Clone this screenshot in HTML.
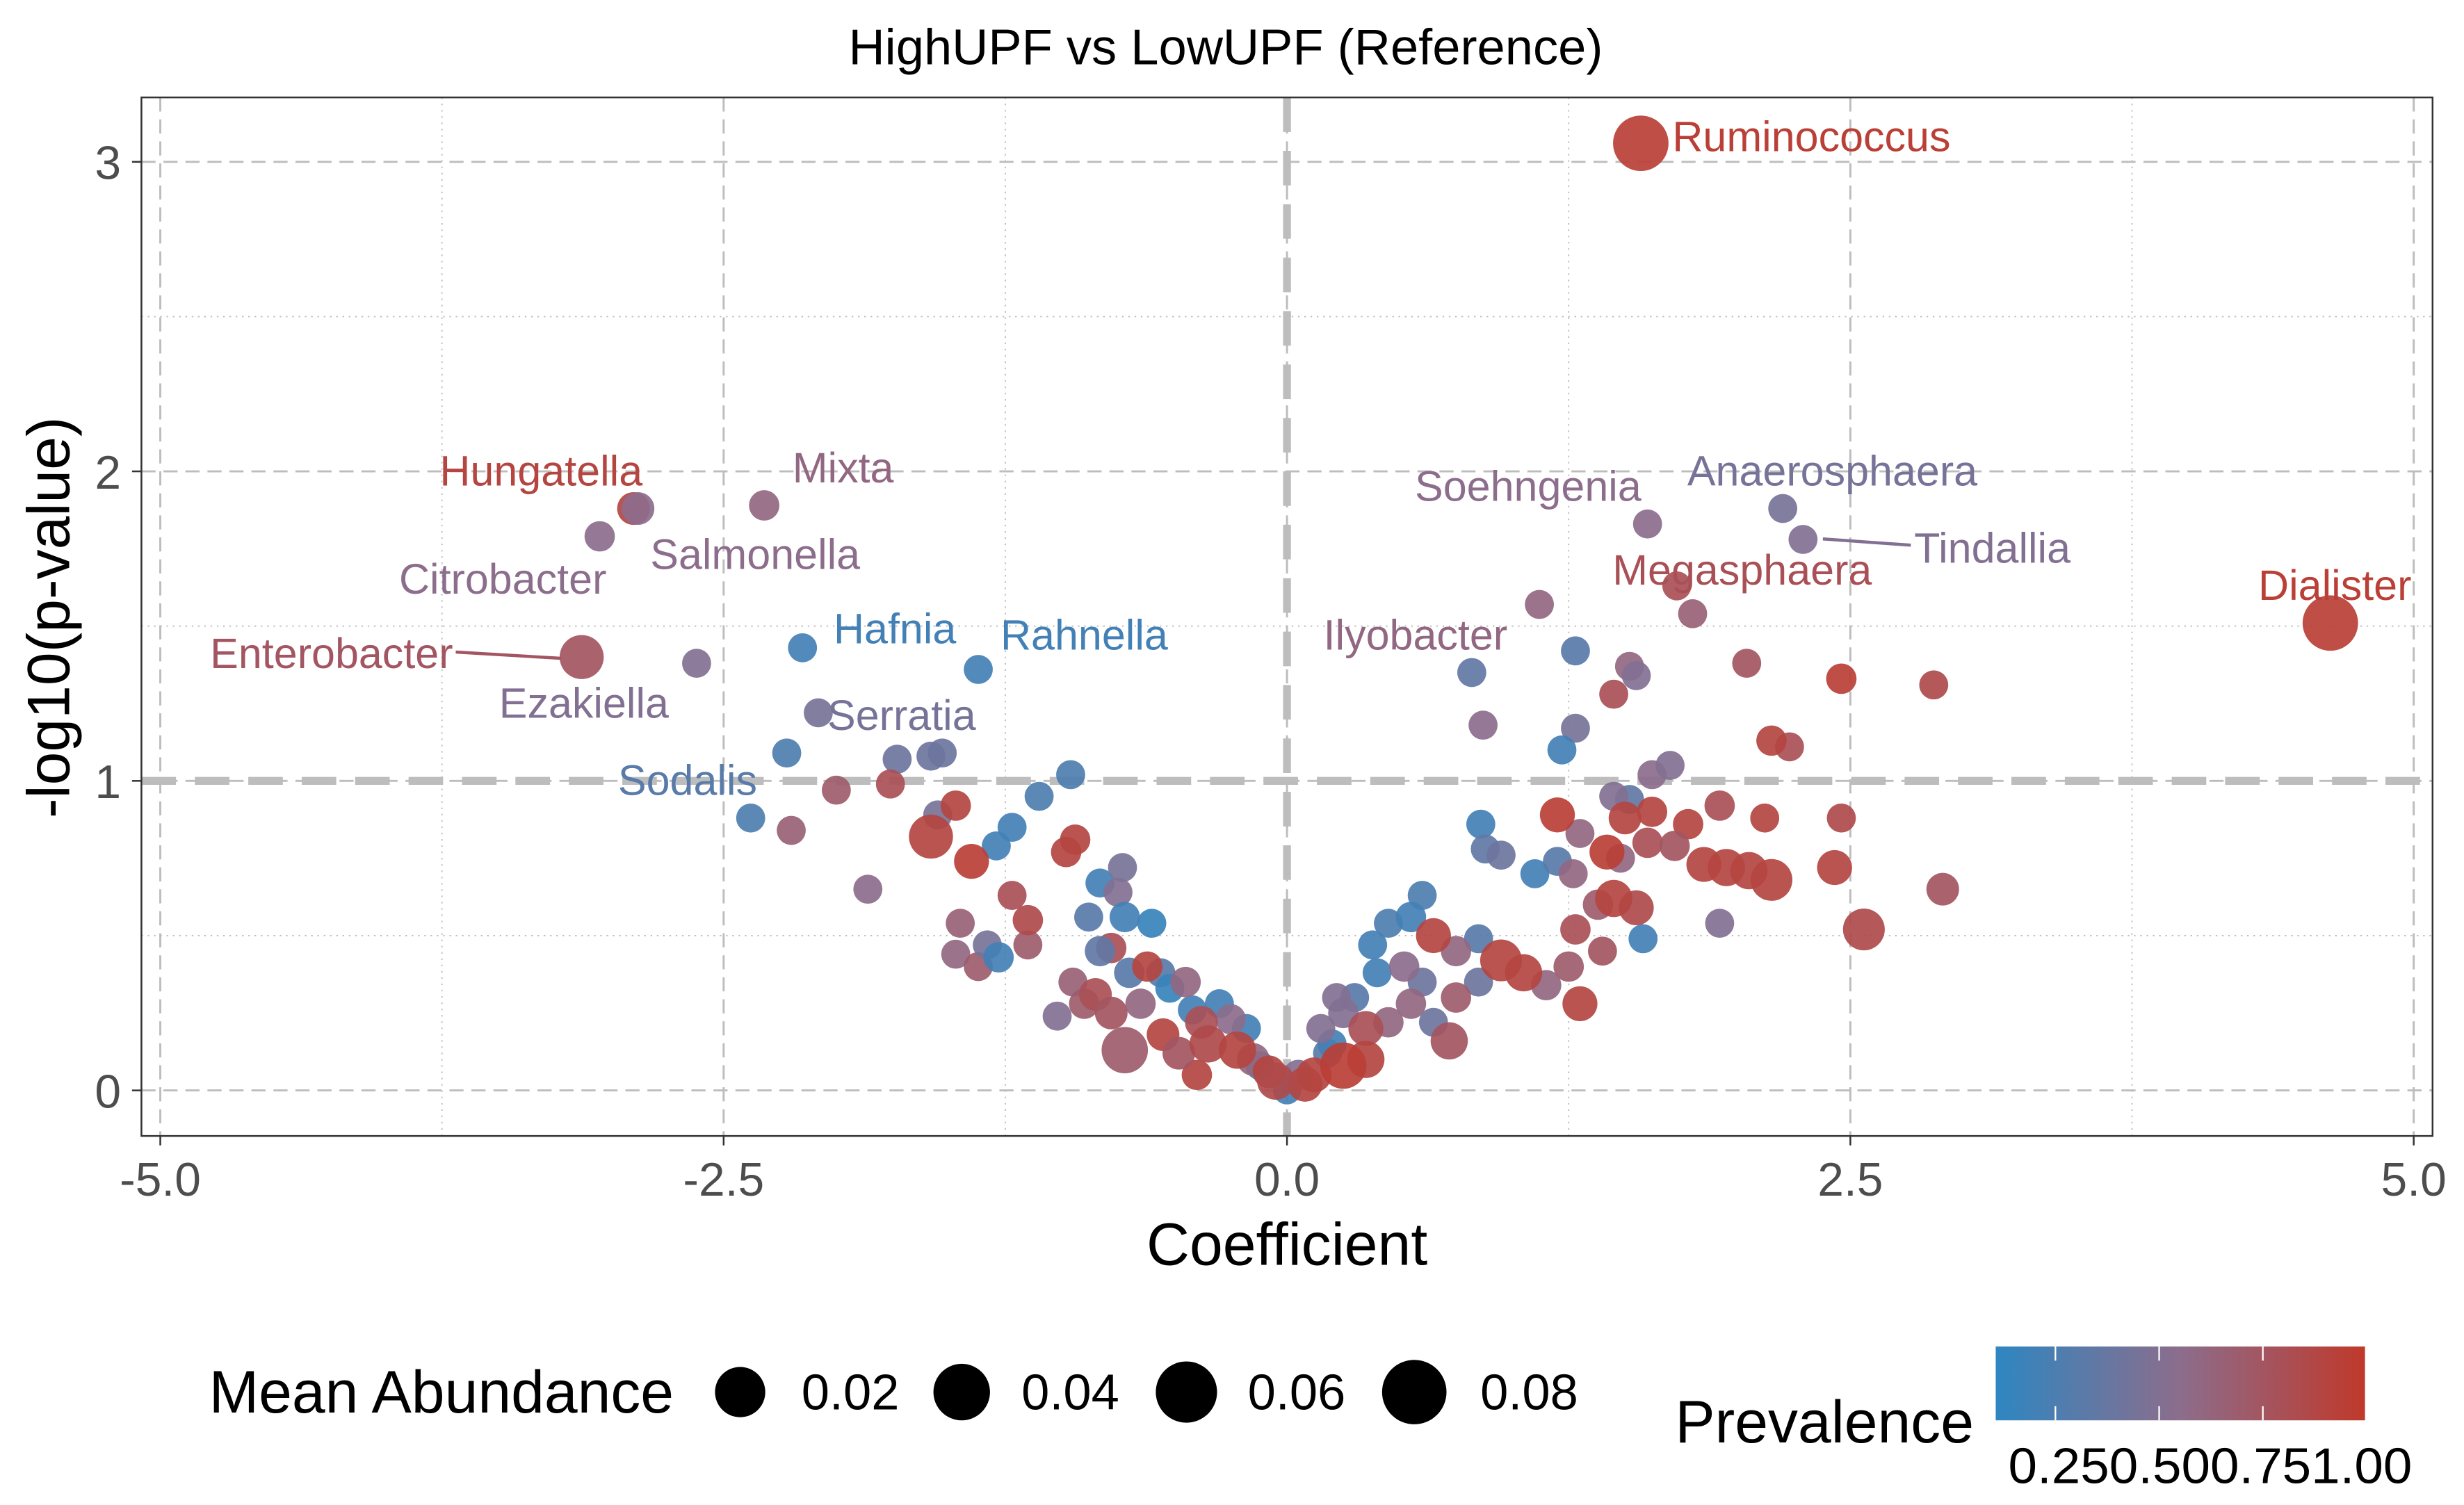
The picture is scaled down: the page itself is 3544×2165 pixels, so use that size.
<!DOCTYPE html>
<html><head><meta charset="utf-8"><style>
html,body{margin:0;padding:0;background:#fff;}
svg{display:block;font-family:"Liberation Sans",Arial,sans-serif;}
</style></head><body>
<svg id="chart" width="3544" height="2165" xmlns="http://www.w3.org/2000/svg">
<rect x="0" y="0" width="3544" height="2165" fill="#fff"/>
<g id="root" transform="scale(2.26020)">
<text x="780" y="41" style="font-size:32px" text-anchor="middle" fill="#000">HighUPF vs LowUPF (Reference)</text>
<g id="grid"></g>
<g id="points"></g>
<g id="labels"></g>
<rect x="90" y="62" width="1458" height="661" fill="none" stroke="#333" stroke-width="1.1"/>
<g id="axes"></g>
<text x="819" y="805" style="font-size:38px" text-anchor="middle" fill="#000">Coefficient</text>
<text transform="translate(44,393) rotate(-90)" style="font-size:38px" text-anchor="middle" fill="#000">-log10(p-value)</text>
<g>
<text x="133" y="899" style="font-size:38px" fill="#000">Mean Abundance</text>
<circle cx="471" cy="886" r="16"/>
<text x="510" y="897" style="font-size:32px" fill="#000">0.02</text>
<circle cx="612" cy="886" r="18"/>
<text x="650" y="897" style="font-size:32px" fill="#000">0.04</text>
<circle cx="755" cy="886" r="19.5"/>
<text x="794" y="897" style="font-size:32px" fill="#000">0.06</text>
<circle cx="900" cy="886" r="20.5"/>
<text x="942" y="897" style="font-size:32px" fill="#000">0.08</text>
</g>
<g>
<defs><linearGradient id="cg" x1="0" x2="1" y1="0" y2="0">
<stop offset="0" stop-color="#2E86C1"/><stop offset="0.5" stop-color="#8C6D8C"/><stop offset="1" stop-color="#C0392B"/></linearGradient></defs>
<text x="1066" y="918" style="font-size:38px" fill="#000">Prevalence</text>
<rect x="1270" y="857" width="235" height="47" fill="url(#cg)"/>
<line x1="1308" y1="857" x2="1308" y2="866" stroke="#fff"/><line x1="1308" y1="895" x2="1308" y2="904" stroke="#fff"/>
<line x1="1374" y1="857" x2="1374" y2="866" stroke="#fff"/><line x1="1374" y1="895" x2="1374" y2="904" stroke="#fff"/>
<line x1="1440" y1="857" x2="1440" y2="866" stroke="#fff"/><line x1="1440" y1="895" x2="1440" y2="904" stroke="#fff"/>
<text x="1278" y="944" style="font-size:32px" fill="#000" textLength="257" lengthAdjust="spacingAndGlyphs">0.250.500.751.00</text>
</g>
</g>
</svg>
<script>
const coef=[-3.13,-3.05,-2.90,-2.88,-2.32,-2.62,-2.15,-1.37,-2.08,-2.22,-2.38,-2.20,-2.00,-1.86,-1.73,-1.58,-1.53,-1.76,-1.58,-1.47,-1.40,-1.55,-1.29,-1.22,-1.10,-0.96,-0.94,-0.98,-1.45,-1.47,-1.37,-1.33,-1.28,-1.22,-1.15,-1.15,-1.02,-0.95,-0.88,-0.83,-0.73,-0.75,-0.72,-0.60,-0.78,-0.83,-0.70,-0.90,-0.85,-0.78,-0.72,-0.62,-0.56,-0.52,-0.45,-0.42,-0.38,-0.35,-0.30,-0.25,-0.22,-0.18,-0.15,-0.12,-0.08,-0.05,-0.55,-0.48,-0.65,-0.40,0.0,
1.57,4.63,2.20,2.29,1.60,1.73,1.80,1.12,1.28,0.82,0.87,1.52,1.55,1.45,2.04,2.46,2.87,1.28,1.22,2.15,2.23,1.62,1.70,1.52,1.45,1.20,1.30,1.50,1.62,1.78,1.92,2.12,2.46,0.86,0.88,0.95,1.10,1.20,1.27,1.42,1.48,1.60,1.72,1.85,1.95,2.05,2.15,2.43,2.91,2.56,1.92,1.58,1.45,1.55,1.38,1.28,1.25,1.30,1.40,1.15,1.05,0.95,0.85,0.75,0.72,0.65,0.55,0.60,0.45,0.38,0.40,0.52,0.60,0.85,0.75,0.30,0.25,0.35,0.45,0.55,0.65,0.25,0.35,0.18,0.12,0.08,0.20,0.15,0.05,0.22];
const logp=[1.40,1.79,1.88,1.88,1.89,1.38,1.43,1.36,1.22,1.09,0.88,0.84,0.97,0.65,1.07,1.08,1.09,0.99,0.82,0.92,0.74,0.89,0.79,0.85,0.95,1.02,0.81,0.77,0.54,0.44,0.40,0.47,0.43,0.63,0.55,0.47,0.24,0.35,0.56,0.67,0.72,0.64,0.56,0.54,0.46,0.45,0.38,0.28,0.31,0.25,0.13,0.40,0.38,0.33,0.35,0.26,0.22,0.15,0.28,0.23,0.13,0.20,0.10,0.08,0.06,0.03,0.18,0.12,0.28,0.05,0.0,
3.06,1.51,1.88,1.78,1.83,1.63,1.54,1.57,1.42,1.35,1.18,1.37,1.34,1.28,1.38,1.33,1.31,1.17,1.10,1.13,1.11,1.02,1.05,0.94,0.95,0.89,0.83,0.88,0.90,0.86,0.92,0.88,0.88,0.86,0.78,0.76,0.70,0.74,0.70,0.77,0.75,0.80,0.79,0.73,0.72,0.71,0.68,0.72,0.65,0.52,0.54,0.49,0.62,0.59,0.60,0.52,0.40,0.28,0.45,0.34,0.38,0.42,0.35,0.30,0.16,0.50,0.56,0.63,0.54,0.47,0.38,0.40,0.35,0.49,0.45,0.30,0.25,0.20,0.22,0.28,0.22,0.08,0.10,0.12,0.05,0.02,0.15,0.20,0.05,0.30];
const prev=[0.75,0.55,0.9,0.55,0.6,0.5,0.2,0.2,0.45,0.25,0.25,0.65,0.7,0.55,0.4,0.4,0.4,0.8,0.9,0.9,0.95,0.45,0.2,0.2,0.25,0.25,0.9,0.9,0.65,0.6,0.7,0.45,0.2,0.8,0.85,0.7,0.5,0.65,0.3,0.2,0.45,0.5,0.2,0.15,0.8,0.35,0.3,0.7,0.8,0.75,0.7,0.9,0.3,0.15,0.6,0.2,0.8,0.85,0.2,0.55,0.9,0.2,0.6,0.2,0.9,0.85,0.9,0.75,0.6,0.9,0.2,
0.95,0.95,0.45,0.5,0.55,0.8,0.65,0.6,0.3,0.35,0.55,0.6,0.5,0.8,0.75,0.95,0.85,0.45,0.2,0.9,0.8,0.55,0.5,0.35,0.5,0.95,0.6,0.9,0.9,0.9,0.8,0.9,0.85,0.2,0.35,0.4,0.2,0.3,0.6,0.95,0.6,0.8,0.75,0.9,0.9,0.9,0.9,0.9,0.75,0.85,0.5,0.2,0.9,0.85,0.7,0.8,0.7,0.9,0.75,0.6,0.9,0.9,0.4,0.7,0.75,0.9,0.2,0.25,0.25,0.2,0.2,0.55,0.4,0.3,0.6,0.3,0.5,0.8,0.6,0.6,0.4,0.95,0.9,0.3,0.9,0.9,0.2,0.5,0.5,0.5];
const abund=[0.045,0.015,0.02,0.02,0.015,0.012,0.012,0.012,0.012,0.012,0.012,0.012,0.012,0.012,0.012,0.012,0.012,0.012,0.045,0.015,0.025,0.012,0.012,0.012,0.012,0.012,0.015,0.015,0.012,0.012,0.012,0.012,0.015,0.012,0.015,0.012,0.012,0.012,0.012,0.012,0.012,0.012,0.015,0.012,0.015,0.015,0.015,0.015,0.02,0.02,0.05,0.015,0.012,0.012,0.015,0.012,0.02,0.03,0.012,0.015,0.03,0.012,0.02,0.012,0.02,0.03,0.02,0.02,0.015,0.015,0.01,
0.07,0.07,0.012,0.012,0.012,0.012,0.012,0.012,0.012,0.012,0.012,0.012,0.012,0.012,0.012,0.015,0.012,0.012,0.012,0.015,0.012,0.012,0.012,0.012,0.012,0.025,0.012,0.02,0.015,0.015,0.015,0.012,0.012,0.012,0.012,0.012,0.012,0.012,0.012,0.025,0.012,0.015,0.015,0.025,0.03,0.03,0.04,0.025,0.02,0.04,0.012,0.012,0.03,0.025,0.015,0.015,0.015,0.025,0.012,0.015,0.03,0.04,0.012,0.015,0.03,0.025,0.015,0.012,0.012,0.012,0.012,0.015,0.012,0.012,0.015,0.012,0.015,0.025,0.015,0.015,0.012,0.05,0.03,0.012,0.025,0.025,0.012,0.012,0.015,0.012];
const xTicks=[-5,-2.5,0,2.5,5];
const xTickLabels=["-5.0","-2.5","0.0","2.5","5.0"];
const yTicks=[0,1,2,3];
const yTickLabels=["0","1","2","3"];
const labelNames=["Ruminococcus","Dialister","Hungatella","Mixta","Salmonella","Citrobacter","Enterobacter","Ezakiella","Hafnia","Rahnella","Serratia","Sodalis","Soehngenia","Anaerosphaera","Tindallia","Megasphaera","Ilyobacter"];
const labelCoef=[1.71,4.65,-3.31,-1.97,-2.36,-3.48,-4.24,-3.12,-1.74,-0.90,-1.71,-2.66,1.07,2.42,3.13,2.02,0.57];
const labelLogp=[3.08,1.63,2.00,2.01,1.73,1.65,1.41,1.25,1.49,1.47,1.21,1.00,1.95,2.00,1.75,1.68,1.47];
const labelPrev=[0.95,0.95,0.9,0.6,0.55,0.55,0.75,0.5,0.2,0.2,0.45,0.3,0.55,0.45,0.5,0.8,0.6];
const labelAnchor=["start","middle","middle","middle","middle","middle","middle","middle","middle","middle","middle","middle","middle","middle","middle","middle","middle"];

const NS="http://www.w3.org/2000/svg";
const X0=819,XS=143.4,Y0=694,YS=197;
function sx(v){return X0+v*XS;}
function sy(v){return Y0-v*YS;}
function sr(a){return 7.5+145*a;}
function hx(h){return [parseInt(h.slice(1,3),16),parseInt(h.slice(3,5),16),parseInt(h.slice(5,7),16)];}
const cA=hx("#2E86C1"),cB=hx("#8C6D8C"),cC=hx("#C0392B");
function col(p){let t=Math.max(0,Math.min(1,(p-0.1)/0.9));let a,b,u;
 if(t<0.5){a=cA;b=cB;u=t/0.5;}else{a=cB;b=cC;u=(t-0.5)/0.5;}
 return "rgb("+a.map((v,i)=>Math.round(v+(b[i]-v)*u)).join(",")+")";}
function mk(tag,attrs,parent){const e=document.createElementNS(NS,tag);for(const k in attrs)e.setAttribute(k,attrs[k]);parent.appendChild(e);return e;}

const grid=document.getElementById("grid");
[-3.75,-1.25,1.25,3.75].forEach(v=>{const l=mk("line",{x1:sx(v),x2:sx(v),y1:62,y2:723,stroke:"#bbb","stroke-width":0.8,"stroke-dasharray":"1 3"},grid);

});
[0.5,1.5,2.5].forEach(v=>{const l=mk("line",{x1:90,x2:1548,y1:sy(v),y2:sy(v),stroke:"#bbb","stroke-width":0.8,"stroke-dasharray":"1 3"},grid);

});
xTicks.forEach(v=>{const l=mk("line",{x1:sx(v),x2:sx(v),y1:62,y2:723,stroke:"#bdbdbd","stroke-width":1.3,"stroke-dasharray":"9 5"},grid);

});
yTicks.forEach(v=>{const l=mk("line",{x1:90,x2:1548,y1:sy(v),y2:sy(v),stroke:"#bdbdbd","stroke-width":1.3,"stroke-dasharray":"9 5"},grid);

});
const th=mk("line",{x1:90,x2:1548,y1:sy(1),y2:sy(1),stroke:"#bdbdbd","stroke-width":5,"stroke-dasharray":"22 12"},grid);


const zv=mk("line",{x1:sx(0),x2:sx(0),y1:62,y2:723,stroke:"#bdbdbd","stroke-width":5,"stroke-dasharray":"22 12"},grid);



const pts=document.getElementById("points");
const order=coef.map((_,i)=>i).sort((a,b)=>abund[a]-abund[b]);
order.forEach(i=>{const c=mk("circle",{cx:sx(coef[i]),cy:sy(logp[i]),r:sr(abund[i]),fill:col(prev[i]),"fill-opacity":0.92},pts);

});

const lab=document.getElementById("labels");
const seg1=mk("line",{x1:290,y1:415,x2:357,y2:419,stroke:col(0.75),"stroke-width":2},lab);


const seg2=mk("line",{x1:1160,y1:343,x2:1216,y2:347,stroke:col(0.5),"stroke-width":2},lab);


labelNames.forEach((n,i)=>{const t=mk("text",{x:sx(labelCoef[i]),y:sy(labelLogp[i])+9,style:"font-size:27px","text-anchor":labelAnchor[i],fill:col(labelPrev[i])},lab);
t.textContent=n;

});

const ax=document.getElementById("axes");
xTicks.forEach((v,i)=>{mk("line",{x1:sx(v),x2:sx(v),y1:723,y2:729,stroke:"#333","stroke-width":1.1},ax);
const t=mk("text",{x:sx(v),y:761,style:"font-size:30px","text-anchor":"middle",fill:"#4d4d4d"},ax);
t.textContent=xTickLabels[i];

});
yTicks.forEach((v,i)=>{mk("line",{x1:84,x2:90,y1:sy(v),y2:sy(v),stroke:"#333","stroke-width":1.1},ax);
const t=mk("text",{x:77,y:sy(v)+11,style:"font-size:30px","text-anchor":"end",fill:"#4d4d4d"},ax);
t.textContent=yTickLabels[i];

});
</script>
</body></html>
